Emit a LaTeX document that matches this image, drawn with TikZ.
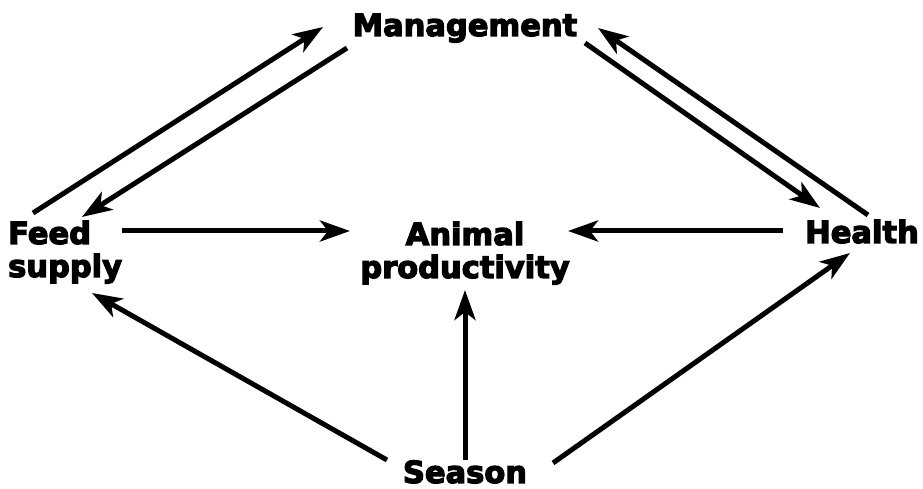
\documentclass[tikz,border=0pt]{standalone}
\usepackage{fontspec}
\setmainfont[BoldFeatures={FakeBold=4}]{DejaVu Sans}
\usepackage{tikz}
\usetikzlibrary{arrows.meta}

\begin{document}
\begin{tikzpicture}[x=1pt,y=1pt,
    factor/.style={inner sep=0pt,font=\bfseries\fontsize{30.5}{33}\selectfont},
    link/.style={line width=5pt,-{Stealth[length=30pt,width=21pt,inset=8pt]}}]
  \useasboundingbox (0,0) rectangle (923,489);

  \node[factor,anchor=base] (mgmt) at (465,453) {Management};
  \node[factor,anchor=base west,align=left] (feed) at (8,212) {Feed\\supply};
  \node[factor,anchor=base,align=center] (animal) at (465,211) {Animal\\productivity};
  \node[factor,anchor=base] (health) at (862,246) {Health};
  \node[factor,anchor=base] (season) at (465,6) {Season};

  % management loop
  \draw[link] ([shift={(25,64)}]feed.base west) -- ([shift={(-142,9)}]mgmt.base);
  \draw[link] ([shift={(-118,-12)}]mgmt.base) -- ([shift={(74,60)}]feed.base west);
  \draw[link] ([shift={(120,-7)}]mgmt.base) -- ([shift={(-42,35)}]health.base);
  \draw[link] ([shift={(6,28)}]health.base) -- ([shift={(133,8)}]mgmt.base);

  % into productivity
  \draw[link] ([shift={(114,46)}]feed.base west) -- ([shift={(-115,47)}]animal.base);
  \draw[link] ([shift={(-79,12)}]health.base) -- ([shift={(103,47)}]animal.base);

  % season
  \draw[link] ([shift={(-78,23)}]season.base) -- ([shift={(84,-16)}]feed.base west);
  \draw[link] ([shift={(88,20)}]season.base) -- ([shift={(-12,-10)}]health.base);
  \draw[link] ([shift={(0,23)}]season.base) -- ([shift={(0,-12)}]animal.base);
\end{tikzpicture}
\end{document}
